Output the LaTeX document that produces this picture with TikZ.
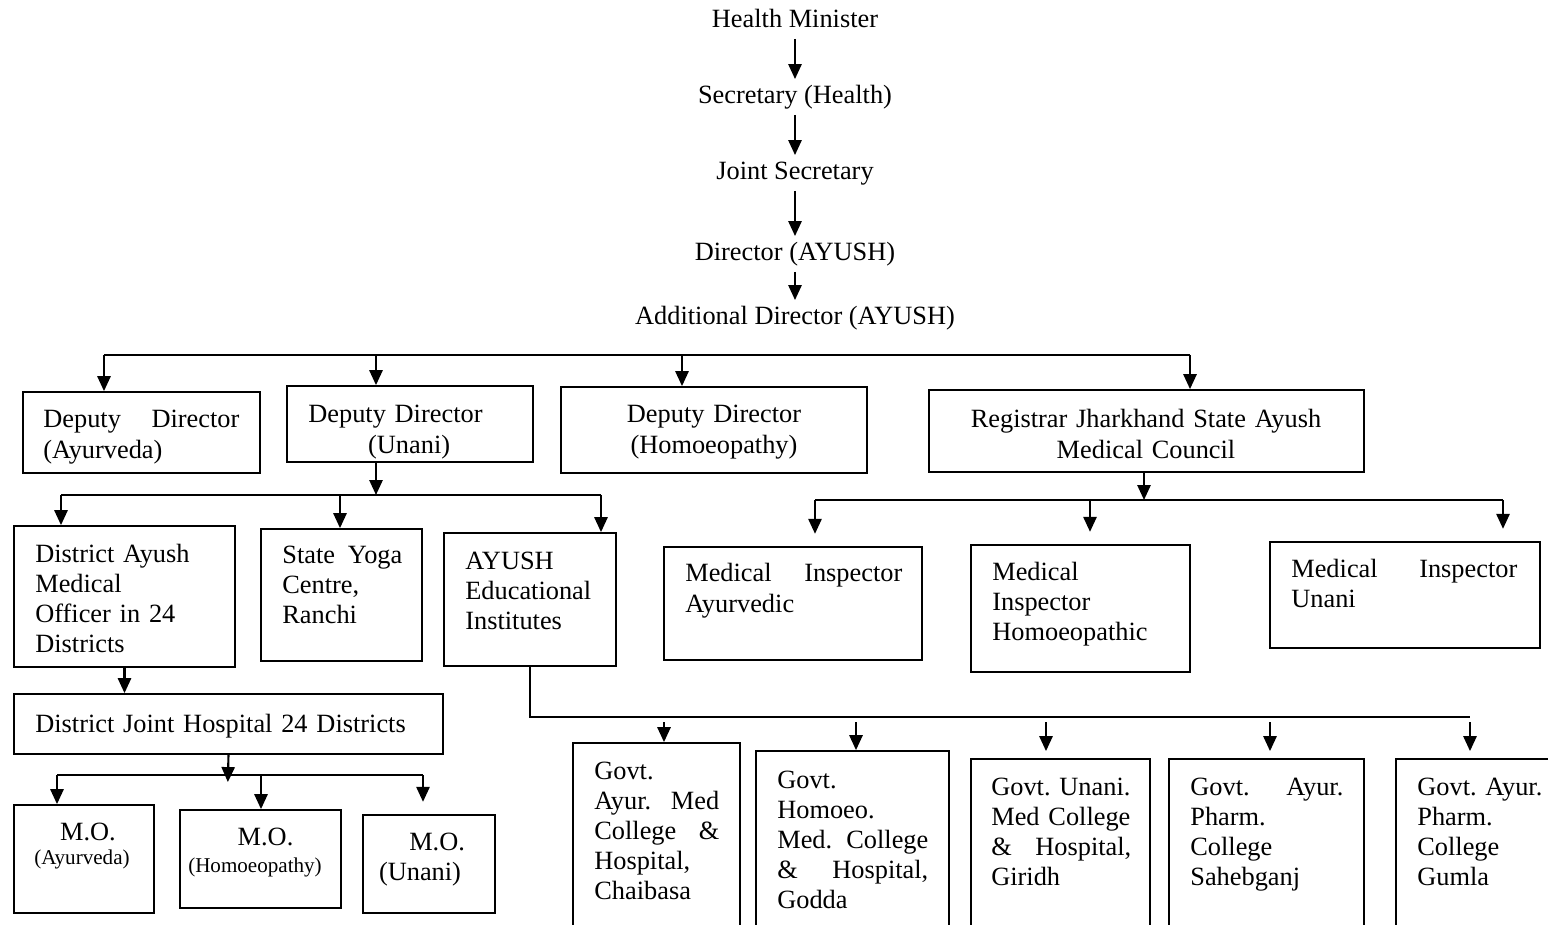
\documentclass[tikz,border=0pt]{standalone}
\usepackage{fontspec}
\setmainfont{Liberation Serif}
\usetikzlibrary{arrows.meta,fit}
\newcommand{\orgfont}{\fontsize{15}{17.2}\selectfont\frenchspacing}
\newcommand{\smallorg}{\fontsize{12}{14}\selectfont}
\tikzset{
  >={Triangle[length=8.5pt,width=7.5pt]},
  orgbox/.style={draw,line width=1pt,inner sep=0pt},
  orgtxt/.style={font=\orgfont,inner sep=0pt,align=left,anchor=base west},
  midtxt/.style={font=\orgfont,inner sep=0pt,align=center,anchor=base},
  rank/.style={font=\orgfont,anchor=base,text height=12pt,text depth=4pt,
    inner xsep=0pt,inner ysep=2pt},
  bus/.style={line width=1.1pt},
  down/.style={->,line width=1.2pt},
}

\begin{document}
\begin{tikzpicture}[x=0.02cm,y=-0.02cm]
  \useasboundingbox (0,0) rectangle (1548,925);
  % chain of command
  \node[rank] (hm)   at (795,28)  {Health Minister};
  \node[rank] (sec)  at (795,104) {Secretary (Health)};
  \node[rank] (js)   at (795,180) {Joint Secretary};
  \node[rank] (dir)  at (795,261) {Director (AYUSH)};
  \node[rank] (adir) at (795,325) {Additional Director (AYUSH)};
  \draw[down] (hm.south) -- (sec.north);
  \draw[down] (sec.south) -- (js.north);
  \draw[down] (js.south) -- (dir.north);
  \draw[down] (dir.south) -- (adir.north);

  % deputy directors
  \node[orgbox,fit={(23,392) (260,473)}] (ddayur) {};
  \node[orgbox,fit={(287,386) (533,462)}] (ddunani) {};
  \node[orgbox,fit={(561,387) (867,473)}] (ddhomoeo) {};
  \node[orgbox,fit={(929,390) (1364,472)}] (registrar) {};
  \node[orgtxt,text width=3.92cm] (t-ddayur) at (43,428) {Deputy\hfill Director\\(Ayurveda)};
  \node[orgtxt,text width=4.2cm] (t-ddunani) at (308,423) {Deputy Director\\\hspace*{2.27em}(Unani)};
  \node[midtxt,text width=5.6cm] (t-ddhomoeo) at (714,423) {Deputy Director\\(Homoeopathy)};
  \node[midtxt,text width=8.2cm] (t-registrar) at (1146,428) {Registrar Jharkhand State Ayush\\Medical Council};
  \coordinate (b1a) at (104,355);
  \coordinate (b1b) at (376,355);
  \coordinate (b1c) at (682,355);
  \coordinate (b1d) at (1190,355);
  \draw[bus] (b1a) -- (b1d);
  \foreach \c/\n in {b1a/ddayur,b1b/ddunani,b1c/ddhomoeo,b1d/registrar}
    \draw[down] (\c) -- (\c |- \n.north);

  % under deputy director (unani)
  \node[orgbox,fit={(14,526) (235,667)}] (dayush) {};
  \node[orgbox,fit={(261,529) (422,661)}] (yoga) {};
  \node[orgbox,fit={(444,533) (616,666)}] (edu) {};
  \node[orgtxt,text width=3.8cm] (t-dayush) at (35,562) {District Ayush\\Medical\\Officer in 24\\Districts};
  \node[orgtxt,text width=2.4cm] (t-yoga) at (282,563) {State\hfill Yoga\\Centre,\\Ranchi};
  \node[orgtxt,text width=2.8cm] (t-edu) at (465,569) {AYUSH\\Educational\\Institutes};
  \coordinate (b2m) at (376,495);
  \coordinate (b2a) at (61,495);
  \coordinate (b2b) at (340,495);
  \coordinate (b2c) at (601,495);
  \draw[down] (b2m |- ddunani.south) -- (b2m);
  \draw[bus] (b2a) -- (b2c);
  \foreach \c/\n in {b2a/dayush,b2b/yoga,b2c/edu}
    \draw[down] (\c) -- (\c |- \n.north);

  % medical council inspectors
  \node[orgbox,fit={(664,547) (922,660)}] (miayur) {};
  \node[orgbox,fit={(971,545) (1190,672)}] (mihomoeo) {};
  \node[orgbox,fit={(1270,542) (1540,648)}] (miunani) {};
  \node[orgtxt,text width=4.34cm] (t-miayur) at (685,582) {Medical\hfill Inspector\\Ayurvedic};
  \node[orgtxt,text width=3.6cm] (t-mihomoeo) at (992,580) {Medical\\Inspector\\Homoeopathic};
  \node[orgtxt,text width=4.52cm] (t-miunani) at (1291,577) {Medical\hfill Inspector\\Unani};
  \coordinate (b4m) at (1144,500);
  \coordinate (b4a) at (815,500);
  \coordinate (b4b) at (1090,500);
  \coordinate (b4c) at (1503,500);
  \draw[down] (b4m |- registrar.south) -- (b4m);
  \draw[bus] (b4a) -- (b4c);
  \foreach \c/\n in {b4a/miayur,b4b/mihomoeo,b4c/miunani}
    \draw[down,shorten >=7pt] (\c) -- (\c |- \n.north);

  % district hospitals
  \node[orgbox,fit={(14,694) (443,754)}] (djh) {};
  \node[orgtxt,text width=8cm] (t-djh) at (35,732) {District Joint Hospital 24 Districts};
  \draw[down] (dayush.south) -- (dayush.south |- djh.north);
  \node[orgbox,fit={(14,805) (154,913)}] (moayur) {};
  \node[orgbox,fit={(180,810) (341,908)}] (mohomoeo) {};
  \node[orgbox,fit={(363,815) (495,913)}] (mounani) {};
  \node[midtxt,text width=2.6cm] (t-moayur) at (82,840) {\hspace*{0.45em}M.O.\\[-3.5pt]{\smallorg(Ayurveda)}};
  \node[midtxt,text width=3cm] (t-mohomoeo) at (255,845) {\hspace*{0.8em}M.O.\\[-1.8pt]{\smallorg(Homoeopathy)}};
  \node[midtxt,text width=2.4cm] (t-mounani) at (420,850) {\hspace*{1.3em}M.O.\\(Unani)};
  \coordinate (b5m) at (228,775);
  \coordinate (b5a) at (57,775);
  \coordinate (b5b) at (261,775);
  \coordinate (b5c) at (423,775);
  \draw[down,shorten >=-4pt] (djh.south) -- (b5m);
  \draw[bus] (b5a) -- (b5c);
  \draw[down] (b5a) -- (b5a |- moayur.north);
  \draw[down] (b5b) -- (b5b |- mohomoeo.north);
  \draw[down,shorten >=7pt] (b5c) -- (b5c |- mounani.north);

  % educational institutes
  \node[orgbox,fit={(573,743) (740,940)}] (chaibasa) {};
  \node[orgbox,fit={(756,751) (949,940)}] (godda) {};
  \node[orgbox,fit={(971,759) (1150,940)}] (giridh) {};
  \node[orgbox,fit={(1169,759) (1364,940)}] (sahebganj) {};
  \node[orgbox,fit={(1396,759) (1570,940)}] (gumla) {};
  \node[orgtxt,text width=2.5cm] (t-chaibasa) at (594,779) {Govt.\\Ayur.\hfill Med\\College\hfill\&\\Hospital,\\Chaibasa};
  \node[orgtxt,text width=3.02cm] (t-godda) at (777,788) {Govt.\\Homoeo.\\Med.\hfill College\\\&\hfill Hospital,\\Godda};
  \node[orgtxt,text width=2.8cm] (t-giridh) at (991,795) {Govt.~Unani.\\Med College\\\&\hfill Hospital,\\Giridh};
  \node[orgtxt,text width=3.06cm] (t-sahebganj) at (1190,795) {Govt.\hfill Ayur.\\Pharm.\\College\\Sahebganj};
  \node[orgtxt,text width=2.6cm] (t-gumla) at (1417,795) {Govt.~Ayur.\\Pharm.\\College\\Gumla};
  \coordinate (b3a) at (664,717);
  \coordinate (b3b) at (856,717);
  \coordinate (b3c) at (1046,717);
  \coordinate (b3d) at (1270,717);
  \coordinate (b3e) at (1470,717);
  \draw[bus] (edu.south) |- (b3e);
  \foreach \c/\n in {b3a/chaibasa,b3b/godda}
    \draw[down,shorten <=3pt] (\c) -- (\c |- \n.north);
  \foreach \c/\n in {b3c/giridh,b3d/sahebganj,b3e/gumla}
    \draw[down,shorten <=3pt,shorten >=4pt] (\c) -- (\c |- \n.north);
\end{tikzpicture}
\end{document}
